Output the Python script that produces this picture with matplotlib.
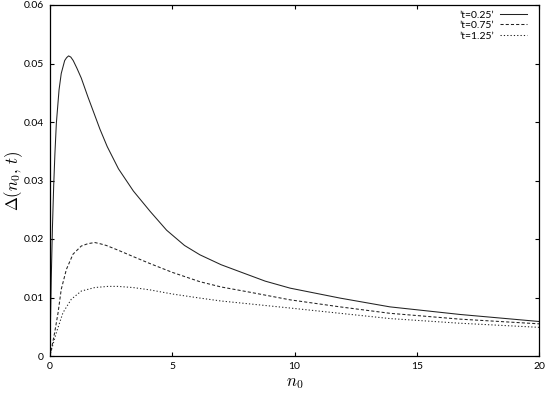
"""
Delta(n0, t) against n0 for three times, gnuplot-looking line plot.
"""

import matplotlib
matplotlib.use("Agg")
import matplotlib.pyplot as plt

# --- Data --------------------------------------------------------------------
LABELS = ["\u2019t=0.25\u2019", "\u2019t=0.75\u2019", "\u2019t=1.25\u2019"]

n0_t025 = [0, 0.02, 0.05, 0.1, 0.15, 0.2, 0.26, 0.37, 0.46, 0.6, 0.68, 0.76,
           0.85, 0.95, 1.1, 1.28, 1.55, 1.8, 2.04, 2.34, 2.8, 3.41, 4.1, 4.77,
           5.5, 6.13, 7.0, 7.77, 8.8, 9.82, 11.86, 13.9, 16.77, 20]
d_t025 = [0, 0.006, 0.013, 0.022, 0.029, 0.0345, 0.0398, 0.0455, 0.0483,
          0.0505, 0.0510, 0.0513, 0.0511, 0.0505, 0.0492, 0.0475, 0.0443,
          0.0415, 0.0388, 0.0358, 0.0320, 0.0282, 0.0247, 0.0215, 0.0189,
          0.0173, 0.0156, 0.0144, 0.0128, 0.0116, 0.0099, 0.0084, 0.0071,
          0.0059]

n0_t075 = [0, 0.05, 0.19, 0.33, 0.46, 0.67, 0.94, 1.28, 1.55, 1.83, 2.04,
           2.3, 2.78, 3.4, 4.09, 5.0, 6.13, 7.0, 8.18, 9.82, 11.86, 13.9,
           16.77, 20]
d_t075 = [0, 0.0010, 0.0040, 0.0074, 0.0114, 0.0148, 0.0174, 0.0188, 0.0192,
          0.0194, 0.0192, 0.0189, 0.0181, 0.0170, 0.0158, 0.0143, 0.0127,
          0.0118, 0.0109, 0.0096, 0.0084, 0.0073, 0.0063, 0.0055]

n0_t125 = [0, 0.05, 0.26, 0.53, 0.87, 1.28, 1.83, 2.37, 2.78, 3.4, 4.09, 5.0,
           6.13, 7.0, 8.18, 9.82, 11.86, 13.9, 16.77, 20]
d_t125 = [0, 0.0009, 0.0040, 0.0074, 0.0097, 0.0111, 0.0117, 0.0119, 0.0119,
          0.0117, 0.0113, 0.0106, 0.0099, 0.0094, 0.0089, 0.0082, 0.0073,
          0.0064, 0.0056, 0.0049]

X_TICKS = [0, 5, 10, 15, 20]
Y_TICKS = [0, 0.01, 0.02, 0.03, 0.04, 0.05, 0.06]
Y_TICK_LABELS = ["0", "0.01", "0.02", "0.03", "0.04", "0.05", "0.06"]

# --- Style --------------------------------------------------------------------
plt.rcParams["font.family"] = ["Lato", "DejaVu Sans"]
plt.rcParams["mathtext.fontset"] = "cm"

fig = plt.figure(figsize=(5.45, 3.96), dpi=100)
ax = fig.add_axes([50 / 545, 1 - 356 / 396, 489 / 545, 351 / 396])

line_kw = dict(color="#222222", linewidth=0.75)
ax.plot(n0_t025, d_t025, label=LABELS[0], **line_kw)
ax.plot(n0_t075, d_t075, label=LABELS[1], dashes=(3, 2), **line_kw)
ax.plot(n0_t125, d_t125, label=LABELS[2], dashes=(1.2, 2), **line_kw)

ax.set_xlim(0, 20)
ax.set_ylim(0, 0.06)
ax.set_xticks(X_TICKS)
ax.set_xticklabels([str(v) for v in X_TICKS])
ax.set_yticks(Y_TICKS)
ax.set_yticklabels(Y_TICK_LABELS)
ax.tick_params(direction="in", length=3, width=0.8, top=True, right=True,
               labelsize=7.5, colors="black")
ax.tick_params(axis="y", pad=4.5)
ax.tick_params(axis="x", pad=4)
for sp in ax.spines.values():
    sp.set_linewidth(0.9)

ax.set_xlabel(r"$n_0$", fontsize=12)
ax.set_ylabel(r"$\Delta(n_0,\, t)$", fontsize=12)
# label anchors: top of x label, right side of rotated y label
ax.xaxis.set_label_coords(0.5, -0.055)
ax.yaxis.set_label_coords(-0.052, 0.5)

ax.legend(loc="upper right", bbox_to_anchor=(0.9755, 0.985), frameon=False,
          markerfirst=False, fontsize=7.5, handlelength=2.6,
          handletextpad=0.55, labelspacing=0.12, borderpad=0,
          borderaxespad=0)

fig.savefig("out.png", dpi=100)
plt.close(fig)
